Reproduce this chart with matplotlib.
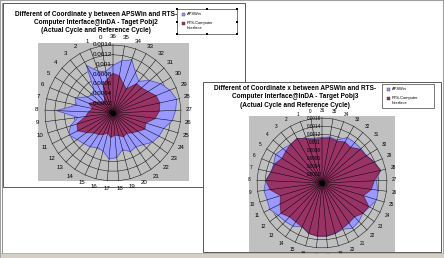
import numpy as np
import matplotlib
matplotlib.use("Agg")
import matplotlib.pyplot as plt
from matplotlib.patches import Rectangle

plt.rcParams['font.family'] = ['Liberation Sans', 'DejaVu Sans']

# categories, clockwise from the top of each radar
cats = [str(c) for c in range(36, -1, -1)]

# Chart 1: difference of coordinate y (Pobj2)
y_apswin = [0.00098, 0.00109, 0.00116, 0.00095, 0.00084, 0.00101, 0.00115, 0.00126,
            0.00134, 0.00129, 0.00123, 0.00109, 0.00106, 0.00101, 0.0009, 0.00084,
            0.00087, 0.00078, 0.00092, 0.00095, 0.00081, 0.00078, 0.00084, 0.00087,
            0.00092, 0.00101, 0.00092, 0.00073, 0.00116, 0.00077, 0.00084, 0.00063,
            0.00056, 0.00063, 0.00112, 0.00091, 0.00087]
y_rts = [0.00081, 0.00077, 0.00063, 0.00056, 0.00077, 0.00078, 0.00084, 0.00095,
         0.00098, 0.00095, 0.00087, 0.0007, 0.00073, 0.00063, 0.00056, 0.0005,
         0.00053, 0.00048, 0.00045, 0.0005, 0.00042, 0.00048, 0.00053, 0.00056,
         0.00067, 0.00081, 0.00077, 0.00056, 0.0005, 0.00042, 0.00053, 0.00042,
         0.00031, 0.00028, 0.00035, 0.00059, 0.0007]
y_ticks = [0, 0.0002, 0.0004, 0.0006, 0.0008, 0.001, 0.0012, 0.0014]

# Chart 2: difference of coordinate x (Pobj3)
x_apswin = [0.00112, 0.00115, 0.00112, 0.00128, 0.00128, 0.00128, 0.00128, 0.00138,
            0.00147, 0.00134, 0.00138, 0.00141, 0.00131, 0.00125, 0.00131, 0.00134,
            0.00125, 0.00128, 0.00131, 0.00131, 0.00128, 0.00118, 0.00128, 0.00131,
            0.00134, 0.00144, 0.00141, 0.00144, 0.00138, 0.00128, 0.00128, 0.00134,
            0.00128, 0.00122, 0.00125, 0.00115, 0.00112]
x_rts = [0.00109, 0.00112, 0.00109, 0.00115, 0.00112, 0.00125, 0.00128, 0.00138,
         0.00147, 0.00128, 0.00122, 0.00106, 0.00128, 0.00125, 0.00115, 0.00118,
         0.00122, 0.00128, 0.00131, 0.00131, 0.00128, 0.00118, 0.00115, 0.00115,
         0.00125, 0.00115, 0.00106, 0.00128, 0.00138, 0.00128, 0.00125, 0.00115,
         0.00118, 0.00122, 0.00125, 0.00115, 0.00109]
x_ticks = [0, 0.0002, 0.0004, 0.0006, 0.0008, 0.001, 0.0012, 0.0014, 0.0016]

series_names = ['APSWin', 'RTS-Computer\nInterface']
BLUE = '#9999ff'
MAROON = '#993366'
GREY = '#c0c0c0'

W, H = 444, 258
fig = plt.figure(figsize=(W / 100, H / 100), dpi=100)


def px_box(x0, y0, x1, y1):
    return [x0 / W, 1 - y1 / H, (x1 - x0) / W, (y1 - y0) / H]


bg = fig.add_axes([0, 0, 1, 1])
bg.set_xlim(0, W)
bg.set_ylim(H, 0)
bg.axis('off')

# window frame
bg.add_patch(Rectangle((0, 0), W, H, facecolor='white', edgecolor='#a0a0a0', lw=1.5, zorder=0))
bg.plot([1.5, 1.5], [3, 253], color='#808080', lw=0.6, zorder=0.5)


def chart_frame(x0, y0, x1, y1, plot_area, title, title_xy, legend_box, z, handles=False):
    bg.add_patch(Rectangle((x0, y0), x1 - x0, y1 - y0, facecolor='white',
                           edgecolor='#404040', lw=0.6, zorder=z))
    px0, py0, px1, py1 = plot_area
    bg.add_patch(Rectangle((px0, py0), px1 - px0, py1 - py0, facecolor=GREY,
                           edgecolor='none', zorder=z + 0.1))
    bg.text(title_xy[0], title_xy[1], title, ha='center', va='center', fontsize=4.7,
            fontweight='bold', linespacing=1.25, zorder=z + 0.2)
    lx0, ly0, lx1, ly1 = legend_box
    bg.add_patch(Rectangle((lx0, ly0), lx1 - lx0, ly1 - ly0, facecolor='white',
                           edgecolor='#404040', lw=0.5, zorder=z + 0.2))
    for i, (name, col) in enumerate(zip(series_names, [BLUE, MAROON])):
        yy = ly0 + 5 + i * 9
        bg.add_patch(Rectangle((lx0 + 5, yy - 1.5), 3, 3, facecolor=col,
                               edgecolor='#404040', lw=0.3, zorder=z + 0.3))
        bg.text(lx0 + 10, yy - 1.8, name, ha='left', va='top', fontsize=2.9,
                linespacing=1.4, zorder=z + 0.3)
    if handles:
        xs = [lx0, (lx0 + lx1) / 2, lx1]
        ys = [ly0, (ly0 + ly1) / 2, ly1]
        for xh in xs:
            for yh in ys:
                if xh == xs[1] and yh == ys[1]:
                    continue
                bg.add_patch(Rectangle((xh - 1, yh - 1), 2, 2, facecolor='black',
                                       edgecolor='none', zorder=z + 0.4))


chart_frame(3, 3, 245, 187, (38, 43, 189, 181),
            'Different of Coordinate y between APSWin and RTS-\n'
            'Computer Interface@InDA - Taget Pobj2\n(Actual Cycle and Reference Cycle)',
            (96, 22.5), (177, 9, 237, 34), 1, handles=True)
chart_frame(203, 82, 441, 252, (249, 116, 395, 252),
            'Different of Coordinate x between APSWin and RTS-\n'
            'Computer Interface@InDA - Target Pobj3\n(Actual Cycle and Reference Cycle)',
            (295, 97), (382, 84, 434, 108), 3)


def radar(box, apswin, rts, ticks, lab_fs, tick_fs, z):
    ax = fig.add_axes(px_box(*box), projection='polar')
    ax.set_zorder(z)
    ax.set_theta_zero_location('N')
    ax.set_theta_direction(-1)
    rmax = ticks[-1]
    ax.set_ylim(0, rmax)
    ax.axis('off')
    n = len(cats)
    theta = np.linspace(0, 2 * np.pi, n, endpoint=False)
    tc = np.append(theta, theta[0])
    for r in ticks[1:]:
        ax.plot(tc, np.full(n + 1, r), color='#202020', lw=0.4, zorder=1, clip_on=False)
    for vals, col in [(apswin, BLUE), (rts, MAROON)]:
        v = np.append(vals, vals[0])
        ax.fill(tc, v, color=col, zorder=2)
        ax.plot(tc, v, color='#303060', lw=0.3, zorder=3)
    for t in theta:
        ax.plot([t, t], [0, rmax], color='black', lw=0.35, zorder=4, clip_on=False)
    ax.plot([0], [0], 'o', color='black', ms=2.5, zorder=5)
    for t, c in zip(theta, cats):
        ax.text(t, rmax * 1.12, c, ha='center', va='center', fontsize=lab_fs,
                zorder=6, clip_on=False)
    for r in ticks:
        ax.annotate('%g' % r, (0, r), xytext=(-0.8, 0), textcoords='offset points',
                    ha='right', va='center', fontsize=tick_fs, zorder=6)
    return ax


radar((45, 45, 181, 181), y_apswin, y_rts, y_ticks, 4.4, 4.5, 2)
radar((257, 118, 387, 248), x_apswin, x_rts, x_ticks, 3.4, 3.4, 4)

fg = fig.add_axes([0, 0, 1, 1])
fg.set_zorder(10)
fg.set_xlim(0, W)
fg.set_ylim(H, 0)
fg.axis('off')
fg.patch.set_alpha(0)
fg.add_patch(Rectangle((0, 253), W, 5, facecolor='#d4d0c8', edgecolor='#a0a0a0', lw=0.5))

fig.savefig('out.png', dpi=100)
